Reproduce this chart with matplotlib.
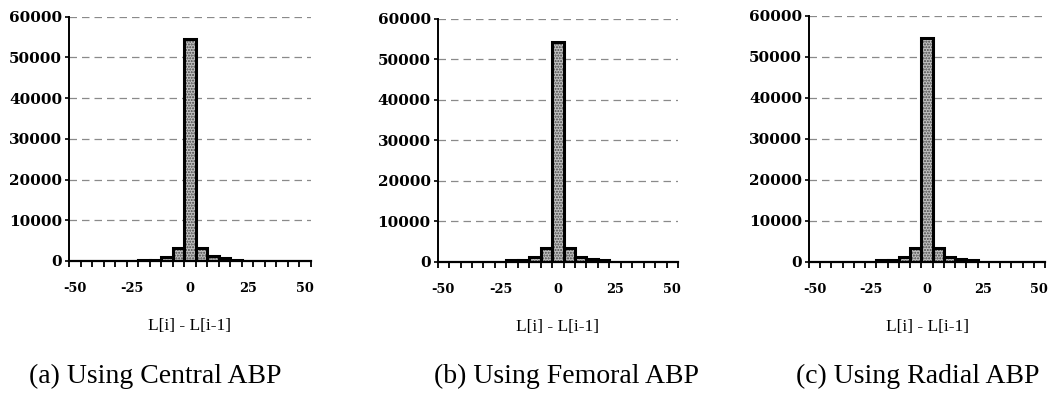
import numpy as np
import matplotlib
matplotlib.use("Agg")
import matplotlib.pyplot as plt

# Histogram bins of successive differences L[i] - L[i-1] (bin centres, step 5)
bins = list(range(-50, 55, 5))

counts_central = [0, 0, 0, 0, 0, 0, 300, 350, 1100, 3300, 54500,
                  3300, 1200, 800, 300, 0, 0, 0, 0, 0, 0]
counts_femoral = [0, 0, 0, 0, 0, 0, 300, 350, 1150, 3300, 54300,
                  3300, 1100, 700, 300, 0, 0, 0, 0, 0, 0]
counts_radial = [0, 0, 0, 0, 0, 0, 300, 350, 1250, 3450, 54600,
                 3400, 1150, 750, 300, 0, 0, 0, 0, 0, 0]

x_tick_labels = ["-50", "-25", "0", "25", "50"]
y_ticks = [0, 10000, 20000, 30000, 40000, 50000, 60000]
x_label = "L[i] - L[i-1]"
captions = ["(a) Using Central ABP", "(b) Using Femoral ABP", "(c) Using Radial ABP"]

panels = [counts_central, counts_femoral, counts_radial]

W, H = 1054, 401
fig = plt.figure(figsize=(W / 100, H / 100), dpi=100)

# axes boxes in pixels: left, top, right, bottom
boxes = [(69, 16.7, 311, 261), (437.7, 19, 678, 261.7), (809, 15.7, 1045, 261.7)]
caption_x = [155, 567, 918]

tick_font = dict(family="DejaVu Serif", weight="bold")
serif = ["Liberation Serif", "DejaVu Serif"]

for counts, (l, t, r, b), cap, cx in zip(panels, boxes, captions, caption_x):
    ax = fig.add_axes([l / W, 1 - b / H, (r - l) / W, (b - t) / H])
    x = np.array(bins, dtype=float)
    y = np.array(counts, dtype=float)
    nz = y > 0

    # stippled fill, then heavy black outline
    ax.bar(x[nz], y[nz], width=5, facecolor="#c2c2c2", edgecolor="#444444",
           linewidth=0, hatch="......", zorder=3)
    ax.bar(x[nz], y[nz], width=5, fill=False, edgecolor="black",
           linewidth=2.2, zorder=4)

    ax.set_xlim(-52.5, 52.5)
    ax.set_ylim(0, 60000)

    ax.set_yticks(y_ticks)
    ax.set_yticklabels([str(v) for v in y_ticks], fontsize=11, **tick_font)
    ax.tick_params(axis="y", length=3, width=1.2, pad=2, direction="out")

    ax.set_xticks([-50, -25, 0, 25, 50])
    ax.set_xticklabels(x_tick_labels, fontsize=9.3, **tick_font)
    ax.set_xticks(np.arange(-52.5, 53, 5), minor=True)
    ax.tick_params(axis="x", which="major", length=0, pad=15)
    ax.tick_params(axis="x", which="minor", length=4, width=1.3, direction="out")

    ax.yaxis.grid(True, linestyle=(0, (6, 4)), color="#8a8a8a", linewidth=0.9)
    ax.set_axisbelow(True)

    for s in ("top", "right"):
        ax.spines[s].set_visible(False)
    ax.spines["left"].set_linewidth(1.4)
    ax.spines["bottom"].set_linewidth(1.6)
    ax.spines["left"].set_zorder(5)
    ax.spines["bottom"].set_zorder(5)

    ax.set_xlabel(x_label, family=serif, fontsize=12.5, labelpad=17)

    fig.text(cx / W, 1 - 376 / H, cap, family=serif, fontsize=20,
             ha="center", va="center")

fig.savefig("out.png", dpi=100)
